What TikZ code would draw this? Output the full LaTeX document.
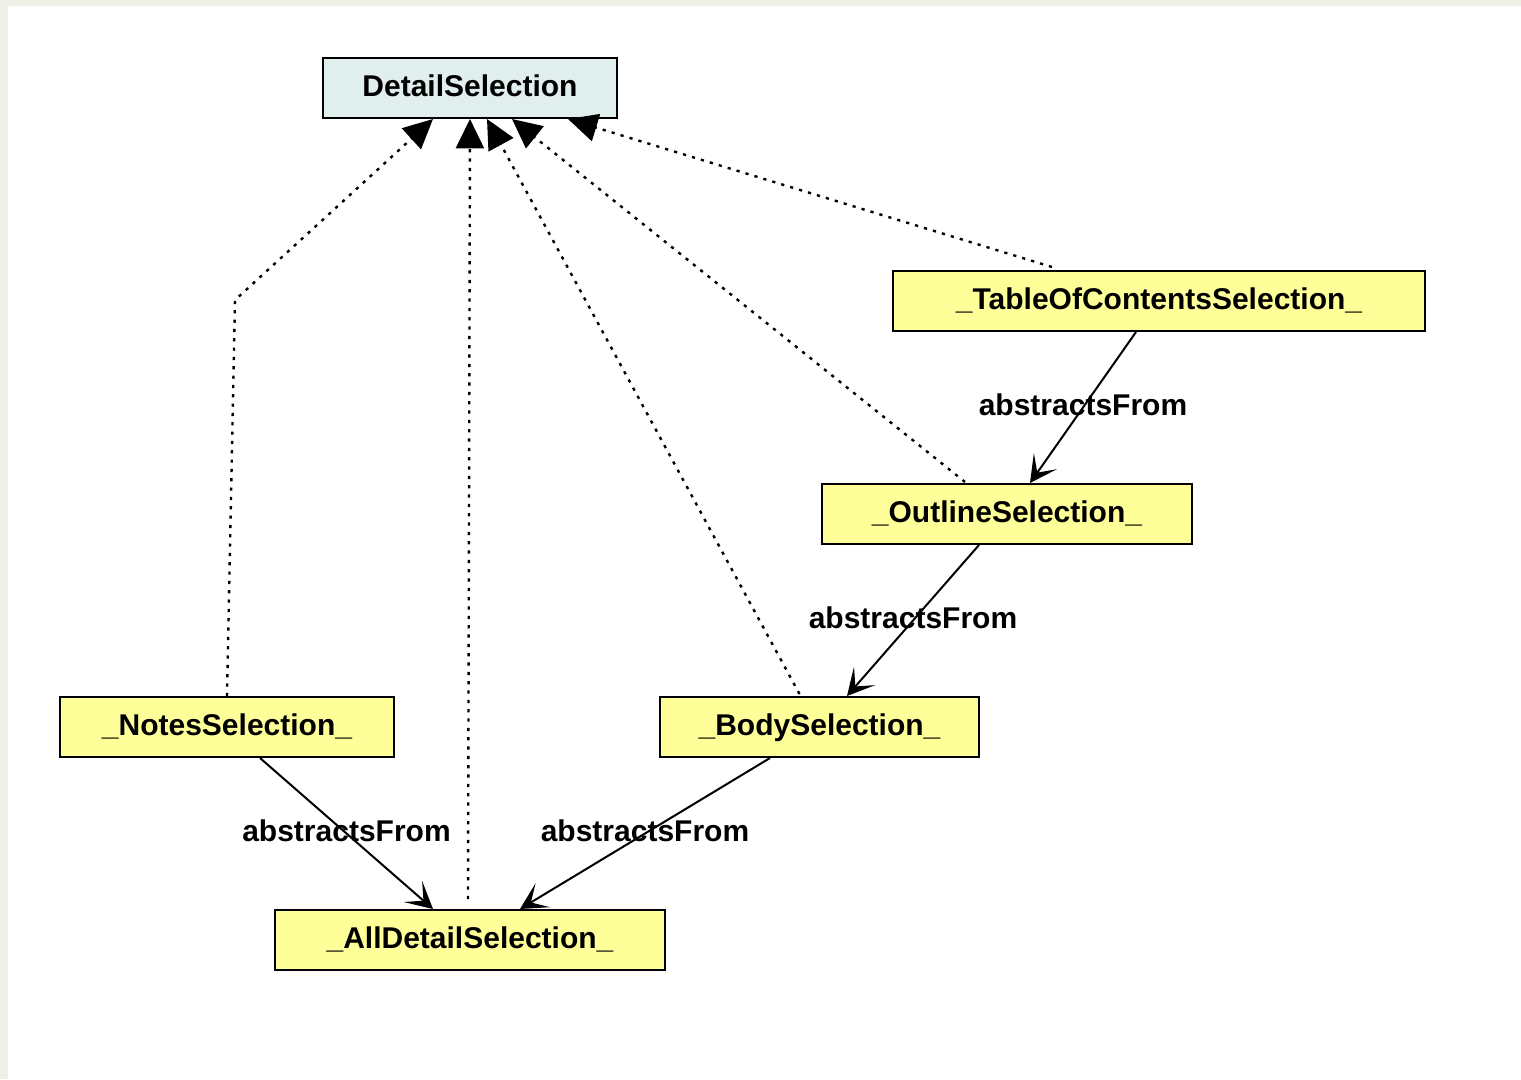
\documentclass[tikz,border=0pt]{standalone}
\usepackage{fontspec}
\setmainfont{Liberation Sans}
\usetikzlibrary{arrows.meta,calc}
\definecolor{pagebg}{HTML}{F0F0E6}
\definecolor{classfill}{HTML}{FFFF99}
\definecolor{ifacefill}{HTML}{E0EEEE}
\begin{document}
\begin{tikzpicture}[x=0.75pt,y=-0.75pt,
  box/.style={draw=black,line width=1.5pt,rectangle,inner sep=0pt,minimum height=45pt,
    text height=17pt,text depth=4pt,
    font=\fontsize{22.5pt}{27pt}\selectfont\bfseries},
  cls/.style={box,fill=classfill},
  iface/.style={box,fill=ifacefill},
  realizes/.style={line width=1.8pt,dash pattern=on 2.4pt off 4.6pt,
    -{Triangle[length=22pt,width=21pt]}},
  abstracts/.style={line width=1.5pt,
    -{Stealth[length=20pt,width=21pt,inset=10.5pt]}},
  lbl/.style={font=\fontsize{22.5pt}{27pt}\selectfont\bfseries,inner sep=0pt}]
  % page background
  \fill[pagebg] (0,0) rectangle (1521,1079);
  \fill[white] (8,6) rectangle (1521,1079);
  \useasboundingbox (0,0) rectangle (1521,1079);

  % nodes
  \node[iface,minimum width=220.5pt] (detail) at (470,88) {DetailSelection};
  \node[cls,minimum width=399pt] (toc) at (1159,301) {\_TableOfContentsSelection\_};
  \node[cls,minimum width=277.5pt] (outline) at (1007,514) {\_OutlineSelection\_};
  \node[cls,minimum width=250.5pt] (notes) at (227,727) {\_NotesSelection\_};
  \node[cls,minimum width=239.25pt] (body) at (819.5,727) {\_BodySelection\_};
  \node[cls,minimum width=292.5pt] (alldetail) at (470,940) {\_AllDetailSelection\_};

  % bend point of the notes connector
  \coordinate (notesbend) at (235,300);

  % realization connectors (dotted, filled triangle)
  \draw[realizes] (notes.north) -- (notesbend) -- ($(detail.south)+(-37,0)$);
  \draw[realizes] ($(alldetail.north)+(-2,-10)$) -- (detail.south);
  \draw[realizes] ($(body.north)+(-20,-2)$) -- ($(detail.south)+(17,0)$);
  \draw[realizes] ($(outline.north)+(-42,-1)$) -- ($(detail.south)+(42,0)$);
  \draw[realizes] ($(toc.north)+(-107,-3)$) -- ($(detail.south)+(98,0)$);

  % abstraction connectors
  \draw[abstracts] ($(toc.south)+(-23,0)$) -- node[lbl,midway,yshift=2pt]{abstractsFrom} ($(outline.north)+(23,0)$);
  \draw[abstracts] ($(outline.south)+(-28,0)$) -- node[lbl,midway,yshift=2pt]{abstractsFrom} ($(body.north)+(27.5,0)$);
  \draw[abstracts] ($(notes.south)+(33,0)$) -- node[lbl,midway,yshift=2pt]{abstractsFrom} ($(alldetail.north)+(-37,0)$);
  \draw[abstracts] ($(body.south)+(-49.5,0)$) -- node[lbl,midway,yshift=2pt]{abstractsFrom} ($(alldetail.north)+(50,0)$);
\end{tikzpicture}
\end{document}
